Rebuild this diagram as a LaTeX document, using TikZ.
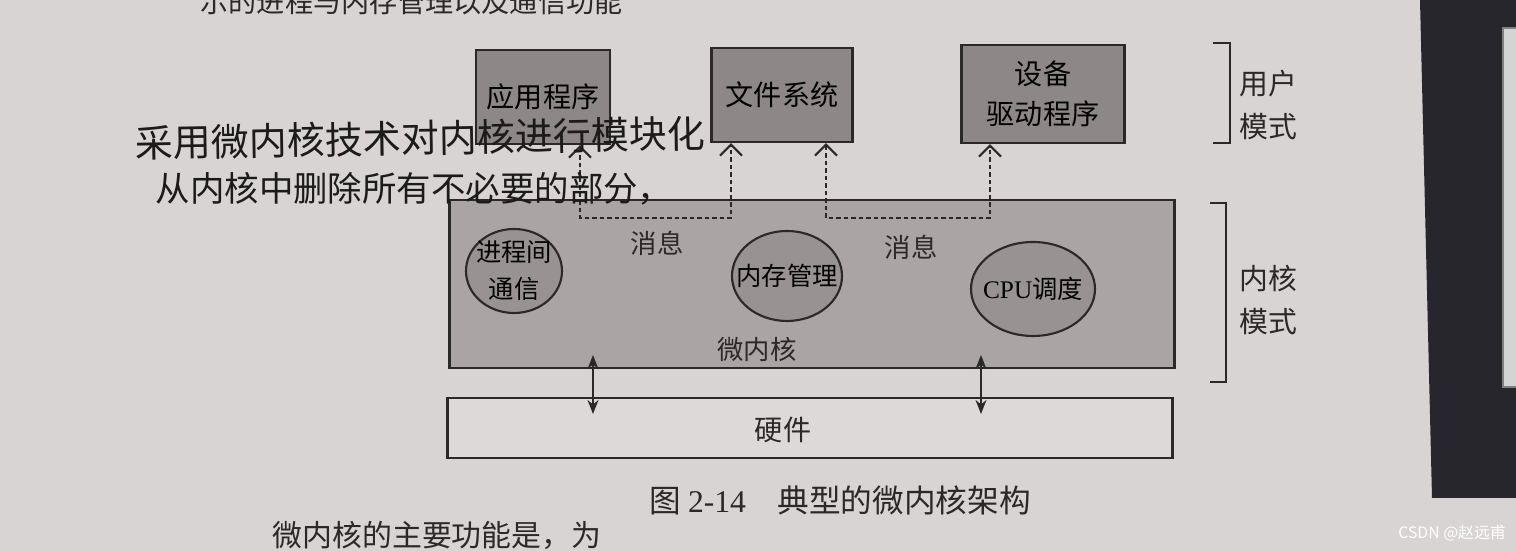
\documentclass[tikz,border=0pt]{standalone}
\usepackage{fontspec}
\setmainfont{Noto Sans CJK SC}
\newfontfamily\serifen{Liberation Serif}
\usetikzlibrary{arrows.meta, shapes.geometric}

\definecolor{paper}{HTML}{D8D4D3}
\definecolor{ink}{HTML}{2B2828}
\definecolor{userfill}{HTML}{8D8787}
\definecolor{kernfill}{HTML}{AAA5A4}
\definecolor{procfill}{HTML}{989292}
\definecolor{hardfill}{HTML}{DCD9D8}
\definecolor{pen}{HTML}{1C1B1B}
\definecolor{edge}{HTML}{27262C}
\definecolor{panel}{HTML}{D4D4D5}

\begin{document}
\begin{tikzpicture}[
        x = 0.1mm, y = -0.1mm,
        box/.style = {draw = ink, line width = 0.6pt, fill = userfill, inner sep = 0mm, minimum height = 9.4mm, align = center, font = \fontsize{8}{11.5}\selectfont},
        proc/.style = {draw = ink, line width = 0.6pt, fill = procfill, ellipse, inner xsep = -3mm, inner ysep = -2mm, align = center, font = \fontsize{7.2}{10.5}\selectfont},
        layer/.style = {draw = ink, line width = 0.6pt, inner sep = 0mm, minimum width = 72.5mm},
        lbl/.style = {inner sep = 0mm, text = ink, font = \fontsize{7.5}{9}\selectfont},
        side/.style = {inner sep = 0mm, align = center, text = ink, font = \fontsize{8.2}{12.2}\selectfont},
        msg/.style = {draw = ink, line width = 0.6pt, dash pattern = on 0.45mm off 0.3mm, >= {Straight Barb[length = 1.1mm, width = 2.2mm]}, <->},
        dbl/.style = {draw = ink, line width = 0.4pt, >= {Stealth[length = 1.4mm, width = 1.1mm]}, <->},
        brk/.style = {draw = ink, line width = 0.7pt},
        hand/.style = {inner sep = 0mm, text = pen, font = \fontsize{10.8}{12}\selectfont},
        body/.style = {inner sep = 0mm, text = ink, font = \fontsize{8}{10}\selectfont},
    ]
    \clip (0,0) rectangle (1516,552);
    \fill[paper] (0,0) rectangle (1516,552);
    \fill[edge] (1420,0) -- (1516,0) -- (1516,498) -- (1432,498) -- cycle;
    \filldraw[fill = panel, draw = gray] (1503,28) rectangle (1520,387);

    \node (top) [body, anchor = base west] at (200,13) {示的进程与内存管理以及通信功能};

    \node (app) [box, minimum width = 13.4mm] at (543,97) {应用程序};
    \node (fs) [box, minimum width = 14.1mm] at (782,95) {文件系统};
    \node (drv) [box, minimum width = 16.3mm, minimum height = 9.8mm] at (1043,94) {设备\\驱动程序};

    \node (kernel) [layer, fill = kernfill, minimum height = 16.8mm] at (812,284) {};
    \node (ipc) [proc, minimum width = 9.6mm, minimum height = 8.4mm] at (514,271) {进程间\\通信};
    \node (mem) [proc, minimum width = 11mm, minimum height = 9mm] at (787,276) {内存管理};
    \node (cpu) [proc, minimum width = 12.4mm, minimum height = 9.4mm] at (1033,289) {{\serifen CPU}调度};
    \node (kname) [lbl] at (757,349) {微内核};
    \node (msg1) [lbl] at (657,243) {消息};
    \node (msg2) [lbl] at (911,247) {消息};

    \node (hard) [layer, fill = hardfill, minimum height = 6mm] at (810,428) {};
    \node (hname) [lbl, font = \fontsize{8}{9}\selectfont] at (783,430) {硬件};

    \coordinate (m1) at (580,218);
    \coordinate (m2) at (731,218);
    \coordinate (m3) at (826,218);
    \coordinate (m4) at (990,218);
    \path[msg] (app.south -| m1) -- (m1) -- (m2) -- (fs.south -| m2);
    \path[msg] (fs.south -| m3) -- (m3) -- (m4) -- (drv.south -| m4);

    \coordinate (ka) at (593,0);
    \coordinate (kb) at (981,0);
    \path[dbl, shorten <= -1.4mm, shorten >= -1.7mm] (kernel.south -| ka) -- (hard.north -| ka);
    \path[dbl, shorten <= -1.4mm, shorten >= -1.7mm] (kernel.south -| kb) -- (hard.north -| kb);

    \path[brk] (1213,43) -| (1230,143) -- (1213,143);
    \path[brk] (1210,203) -| (1226,382) -- (1210,382);
    \node (um) [side] at (1268,105) {用户\\模式};
    \node (km) [side] at (1268,300) {内核\\模式};

    \node (cap) [inner sep = 0mm, text = ink, font = \fontsize{9}{10}\selectfont] at (840,500) {图 {\serifen 2-14}\quad 典型的微内核架构};
    \node (bot) [body, anchor = base west, font = \fontsize{8.5}{10}\selectfont] at (272,547) {微内核的主要功能是，为};

    \node (note1) [hand, anchor = west, rotate = 1] at (135,143) {采用微内核技术对内核进行模块化};
    \node (note2) [hand, anchor = west, font = \fontsize{9.8}{11}\selectfont] at (155,189) {从内核中删除所有不必要的部分，};

    \node (wm) [inner sep = 0mm, text = white, font = \fontsize{4.5}{5}\selectfont] at (1452,533) {CSDN @赵远甫};
\end{tikzpicture}
\end{document}
